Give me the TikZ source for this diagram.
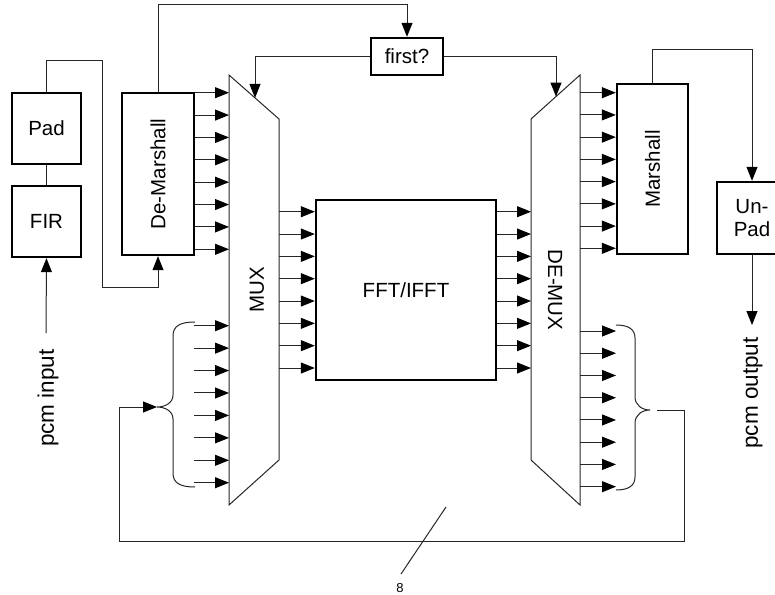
\documentclass[tikz,border=0pt]{standalone}
\usepackage{fontspec}
\setmainfont{Liberation Sans}
\usetikzlibrary{arrows.meta,calc}

\tikzset{
  blk/.style={draw, line width=2.4pt, inner sep=0pt, align=center,
    font=\fontsize{20.5}{22.5}\selectfont},
  wire/.style={line width=1pt, black!85},
  arr/.style={wire, -{Triangle[length=14pt,width=11pt,black]}},
  lbl/.style={inner sep=0pt, font=\fontsize{20.5}{22.5}\selectfont},
  io/.style={inner sep=0pt, font=\fontsize{22.5}{24}\selectfont},
}

\begin{document}
\begin{tikzpicture}[x=1pt,y=-1pt]
    \useasboundingbox (0,0) rectangle (775,594);

    % Input side
    \node[blk, minimum width=69pt, minimum height=71pt] (pad) at (46.5,128.5) {Pad};
    \node[blk, minimum width=69pt, minimum height=71pt] (fir) at (46.5,221.5) {FIR};
    \node[blk, minimum width=72pt, minimum height=162pt] (dmar) at (158,174) {\rotatebox{90}{De-Marshall}};
    \node[io] (pcmin) at (48,398) {\rotatebox{90}{pcm input}};
    \coordinate (pinTop) at (46,333);

    \draw[wire] (pad.south) -- (fir.north);
    \draw[arr] (pinTop) -- (fir.south);
    \draw[arr] (pad.north) |- (102,60) -- (102,287) -| (dmar.south);

    % Selector
    \node[blk, minimum width=72pt, minimum height=37pt] (first) at (407,56.5) {first?};
    \coordinate (top) at (407,5);
    \draw[arr] (dmar.north) |- (top) -- (first.north);

    % MUX
    \coordinate (m1) at (229,75);
    \coordinate (m2) at (279,119);
    \coordinate (m3) at (279,460);
    \coordinate (m4) at (229,505);
    \draw[wire] (m1) -- (m2) -- (m3) -- (m4) -- cycle;
    \node[lbl] (mux) at (257,290) {\rotatebox{90}{MUX}};
    \coordinate (muxsel) at ($(m1)!0.52!(m2)$);
    \draw[arr] (first.west) -| (muxsel);

    % DE-MUX
    \coordinate (d1) at (580,75);
    \coordinate (d2) at (531,119);
    \coordinate (d3) at (531,460);
    \coordinate (d4) at (580,505);
    \draw[wire] (d1) -- (d2) -- (d3) -- (d4) -- cycle;
    \node[lbl] (demux) at (555,290) {\rotatebox{-90}{DE-MUX}};
    \coordinate (dmxsel) at ($(d1)!0.49!(d2)$);
    \draw[arr] (first.east) -| (dmxsel);

    % FFT core
    \node[blk, minimum width=180pt, minimum height=180pt] (fft) at (406,290) {FFT/IFFT};

    % Output side
    \node[blk, minimum width=71pt, minimum height=170pt] (mar) at (652.5,169) {\rotatebox{90}{Marshall}};
    \node[blk, minimum width=70pt, minimum height=72pt] (unpad) at (752,218) {Un-\\Pad};
    \node[io] (pcmout) at (753,393) {\rotatebox{90}{pcm output}};
    \coordinate (poutTop) at (752,325);
    \draw[arr] (mar.north) |- (752,50) -- (unpad.north);
    \draw[arr] (unpad.south) -- (poutTop);

    % Bus arrows
    \foreach \i in {0,...,7} {
        \pgfmathsetmacro\ya{92.7+22.37*\i}
        \draw[arr] (dmar.east |- 0,\ya) -- (m1 |- 0,\ya);
        \pgfmathsetmacro\yb{211.7+22.33*\i}
        \draw[arr] (m2 |- 0,\yb) -- (fft.west |- 0,\yb);
        \draw[arr] (fft.east |- 0,\yb) -- (d2 |- 0,\yb);
        \pgfmathsetmacro\yc{325.7+22.43*\i}
        \draw[arr] (194,\yc) -- (m1 |- 0,\yc);
        \pgfmathsetmacro\yd{331+22.24*\i}
        \draw[arr] (d1 |- 0,\yd) -- (616,\yd);
        \pgfmathsetmacro\ye{92.7+22.23*\i}
        \draw[arr] (d1 |- 0,\ye) -- (mar.west |- 0,\ye);
    }

    % Braces
    \coordinate (lb) at (157,407);
    \coordinate (rb) at (650,410);
    \draw[wire] (195,322) .. controls (180,322) and (173,326) .. (173,336) -- (173,395)
        .. controls (173,403) and (165,407) .. (lb)
        .. controls (165,407) and (173,411) .. (173,419) -- (173,473)
        .. controls (173,483) and (180,487) .. (195,487);
    \draw[wire] (616,325) .. controls (628,325) and (635,329) .. (635,338) -- (635,397)
        .. controls (635,405) and (642,410) .. (rb)
        .. controls (642,410) and (635,415) .. (635,423) -- (635,477)
        .. controls (635,486) and (628,490) .. (616,490);

    % Feedback
    \draw[arr] ([xshift=7pt]rb) -- (684,410) -- (684,541) -- (119,541) -- (119,407) -- (lb);
    \draw[wire] (446,507) -- (401,574);
    \node[inner sep=0pt, font=\fontsize{13}{15}\selectfont] (width) at (400,588) {8};
\end{tikzpicture}
\end{document}
